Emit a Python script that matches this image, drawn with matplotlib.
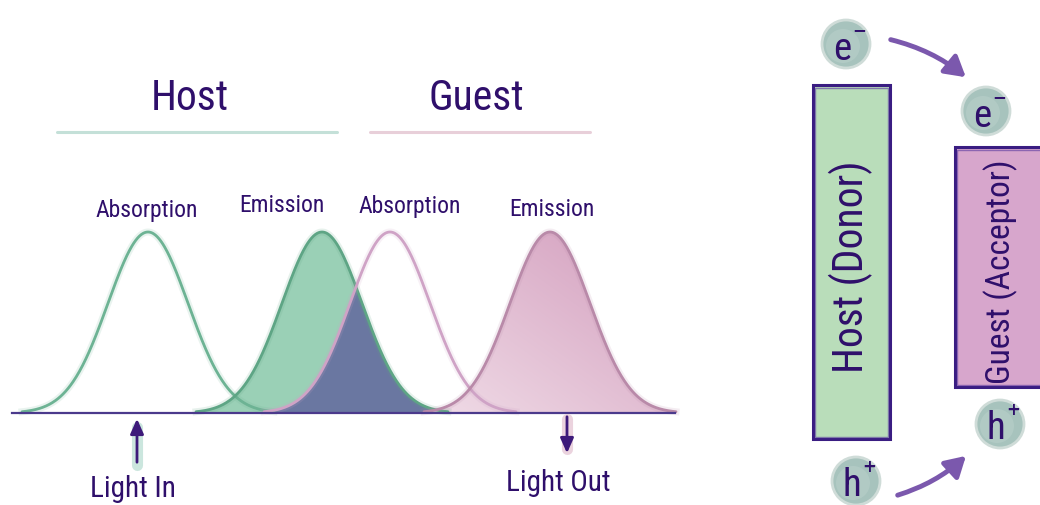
import numpy as np
import matplotlib
matplotlib.use("Agg")
import matplotlib.pyplot as plt
from matplotlib.patches import Circle, FancyArrowPatch, Rectangle
from matplotlib.colors import LinearSegmentedColormap
from matplotlib import font_manager

# ---------------- data ----------------
band_names = ["Host Absorption", "Host Emission", "Guest Absorption", "Guest Emission"]
band_centers = [148, 322, 390, 550]     # peak positions (px on the spectral axis)
band_sigma = [40, 40, 40, 40]
band_heights = [181, 181, 181, 181]
band_labels = ["Absorption", "Emission", "Absorption", "Emission"]
band_label_x = [147, 282, 410, 552]
band_label_y = [210, 205, 207, 209]
group_titles = ["Host", "Guest"]
group_title_x = [190, 476]
group_line_x = [(57, 337), (370, 590)]
baseline_y = 414
baseline_x = (12, 675)

bar_labels = ["Host (Donor)", "Guest (Acceptor)"]
bar_x = [(813, 890), (955, 1045)]
bar_y = [(86, 440), (148, 388)]
bar_label_size = [30, 24]
carrier_labels = ["e", "e", "h", "h"]
carrier_signs = ["\u2212", "\u2212", "+", "+"]
carrier_xy = [(846, 45), (986, 112), (1000, 425), (856, 482)]

TXT = "#2f0f6b"
GREEN_LINE = "#6db394"
GREEN_FILL = "#95ceb2"
PINK_LINE = "#cfa3c6"
OVERLAP = "#6872a0"

names = {f.name for f in font_manager.fontManager.ttflist}
narrow = [n for n in ["Roboto Condensed", "Liberation Sans Narrow", "DejaVu Sans Condensed", "Open Sans Condensed"] if n in names]
FAM = (narrow[:1] + ["DejaVu Sans"])
FONT = dict(family=FAM, fontstretch="condensed", color=TXT)

fig = plt.figure(figsize=(10.4, 5.06), dpi=100)
ax = fig.add_axes([0, 0, 1, 1])

def gauss(x, c, s, h):
    return h * np.exp(-0.5 * ((x - c) / s) ** 2)

curves = []
for c, s, h in zip(band_centers, band_sigma, band_heights):
    x = np.linspace(c - 3.15 * s, c + 3.15 * s, 400)
    curves.append((x, baseline_y - gauss(x, c, s, h)))

# host emission fill
x, y = curves[1]
ax.fill_between(x, baseline_y, y, color=GREEN_FILL, alpha=0.95, lw=0, zorder=2)
# overlap fill (host emission x guest absorption)
xo = np.linspace(band_centers[2] - 3.15 * band_sigma[2], band_centers[1] + 3.15 * band_sigma[1], 400)
yo = np.minimum(gauss(xo, band_centers[1], band_sigma[1], band_heights[1]),
                gauss(xo, band_centers[2], band_sigma[2], band_heights[2]))
ax.fill_between(xo, baseline_y, baseline_y - yo, color=OVERLAP, alpha=0.95, lw=0, zorder=3)
# guest emission fill with a soft gradient (lighter towards lower-left)
x, y = curves[3]
poly = ax.fill_between(x, baseline_y, y, color="none", lw=0, zorder=3)
gx, gy = np.meshgrid(np.linspace(0, 1, 200), np.linspace(0, 1, 200))
grad = np.clip(0.6 * gx + 0.6 * (1 - gy), 0, 1)
cmap = LinearSegmentedColormap.from_list("pk", ["#f0dce7", "#d7a6c3"])
im = ax.imshow(grad, extent=(x.min(), x.max(), baseline_y, baseline_y - band_heights[3]), cmap=cmap,
               origin="upper", aspect="auto", zorder=3, interpolation="bilinear")
im.set_clip_path(poly.get_paths()[0], transform=ax.transData)

line_cols = [GREEN_LINE, "#5ea585", PINK_LINE, "#b98aa9"]
for (x, y), col in zip(curves, line_cols):
    ax.plot(x, y, color=col, lw=2.0, zorder=4, solid_capstyle="round")
    ax.plot(x, y, color=col, lw=5, alpha=0.15, zorder=4)

ax.plot(baseline_x, [baseline_y, baseline_y], color="#4b3a8c", lw=1.6, zorder=5)

# titles and underlines
for t, tx, (x0, x1), lc in zip(group_titles, group_title_x, group_line_x, ["#c4e0d8", "#e8cfd9"]):
    ax.text(tx, 98, t, fontsize=30, ha="center", va="center", **FONT)
    ax.plot([x0, x1], [133, 133], color=lc, lw=2.2, solid_capstyle="round")

for lab, lx, ly in zip(band_labels, band_label_x, band_label_y):
    ax.text(lx, ly, lab, fontsize=17, ha="center", va="center", **FONT)

# light in / out arrows
ax.plot([137, 137], [466, 428], color="#bfe0d6", lw=8, alpha=0.8, solid_capstyle="round", zorder=5)
ax.annotate("", xy=(137, 417), xytext=(137, 466),
            arrowprops=dict(arrowstyle="-|>,head_length=0.9,head_width=0.4", color="#3d1a7a", lw=2), zorder=6)
ax.plot([567, 567], [420, 450], color="#e6c8d6", lw=8, alpha=0.8, solid_capstyle="round", zorder=5)
ax.annotate("", xy=(567, 457), xytext=(567, 415),
            arrowprops=dict(arrowstyle="-|>,head_length=0.9,head_width=0.4", color="#3d1a7a", lw=2), zorder=6)
ax.text(133, 489, "Light In", fontsize=21, ha="center", va="center", **FONT)
ax.text(558, 483, "Light Out", fontsize=21, ha="center", va="center", **FONT)

# ---------------- energy diagram ----------------
bar_fill = ["#b9ddba", "#d7a6cc"]
for (x0, x1), (y0, y1), fc, lab, fs in zip(bar_x, bar_y, bar_fill, bar_labels, bar_label_size):
    r = Rectangle((x0, y0), x1 - x0, y1 - y0, facecolor=fc, edgecolor="#3a1d82", lw=2.2, zorder=2)
    ax.add_patch(r)
    r2 = Rectangle((x0 + 2, y0 + 3), x1 - x0 - 4, y1 - y0 - 5, facecolor="none", edgecolor="#5a3aa0",
                   lw=1, alpha=0.6, zorder=2)
    ax.add_patch(r2)
    cx = (x0 + x1) / 2 - 1 if x1 < 1000 else 1001
    ax.text(cx, (y0 + y1) / 2 + 4, lab, rotation=90, fontsize=fs,
            ha="center", va="center", zorder=3, **FONT)

for lab, sgn, (cx, cy) in zip(carrier_labels, carrier_signs, carrier_xy):
    ax.add_patch(Circle((cx, cy), 24, facecolor="#a7c3bd", edgecolor="#cfdcd8", lw=2, zorder=4))
    ax.add_patch(Circle((cx - 3, cy + 2), 17, facecolor="#b8cfca", edgecolor="none", alpha=0.6, zorder=4))
    ax.text(cx - 4, cy + 4, lab, fontsize=28, ha="center", va="center", zorder=5, **FONT)
    ax.text(cx + 13, cy - 15, sgn, fontsize=12, ha="center", va="center", zorder=5,
            family="DejaVu Sans", color=TXT, fontweight="bold")

arrow_col = "#7b58ad"
a1 = FancyArrowPatch((888, 40), (968, 80), connectionstyle="arc3,rad=-0.12",
                     arrowstyle="-|>,head_length=12,head_width=7", color=arrow_col, lw=3.5, zorder=3)
a2 = FancyArrowPatch((895, 497), (968, 455), connectionstyle="arc3,rad=0.12",
                     arrowstyle="-|>,head_length=12,head_width=7", color=arrow_col, lw=3.5, zorder=3)
ax.add_patch(a1)
ax.add_patch(a2)

ax.set_xlim(0, 1040)
ax.set_ylim(506, 0)
ax.axis("off")

fig.savefig("out.png", dpi=100, facecolor="white")
